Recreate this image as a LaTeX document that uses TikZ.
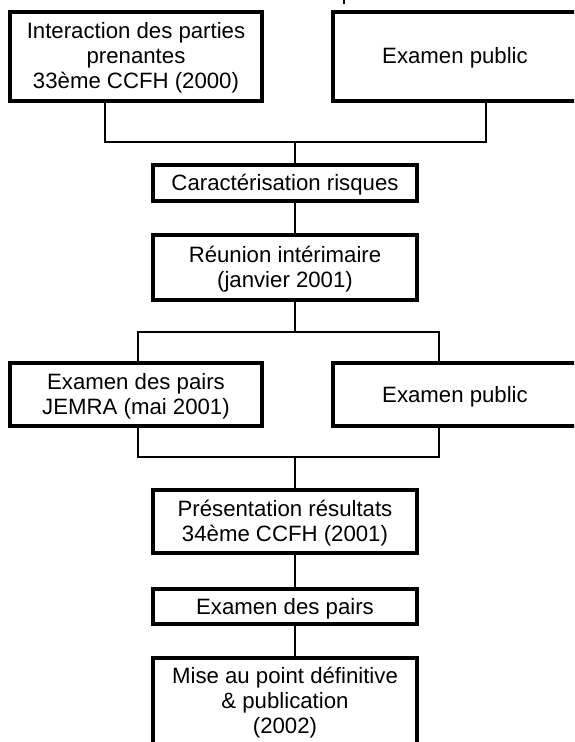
\documentclass[tikz,border=0pt]{standalone}
\usepackage{fontspec}
\setmainfont{Liberation Sans}
\newcommand\lnst{\rule[-4.7pt]{0pt}{24.9pt}}
\begin{document}
\begin{tikzpicture}[x=1pt,y=-1pt,
  box/.style={draw,line width=4pt,inner sep=0pt,align=center,font=\fontsize{22.2}{25}\selectfont},
  wide/.style={minimum width=252pt},
  mid/.style={minimum width=264pt},
  link/.style={line width=2pt}]
\useasboundingbox (0,0) rectangle (574,742);
\clip (0,0) rectangle (574,742);
% nodes
\node[box,wide,minimum height=89pt] (inter) at (136,56) {\lnst Interaction des parties\\\lnst prenantes\\\lnst 33ème CCFH (2000)};
\node[box,minimum width=244pt,minimum height=89pt] (pub1) at (455,56) {\lnst Examen public};
\node[box,mid,minimum height=36pt] (caract) at (285,183) {\lnst Caractérisation risques};
\node[box,mid,minimum height=65pt] (reunion) at (285,267.5) {\lnst Réunion intérimaire\\\lnst (janvier 2001)};
\node[box,wide,minimum height=63pt] (jemra) at (136,394.5) {\lnst Examen des pairs\\\lnst JEMRA (mai 2001)};
\node[box,minimum width=244pt,minimum height=63pt] (pub2) at (455,394.5) {\lnst Examen public};
\node[box,mid,minimum height=63pt] (pres) at (285,521.5) {\lnst Présentation résultats\\\lnst 34ème CCFH (2001)};
\node[box,mid,minimum height=35pt] (pairs) at (285,606.5) {\lnst Examen des pairs};
\node[box,mid,minimum height=86pt] (mise) at (285,701) {\lnst Mise au point définitive\\\lnst \& publication\\\lnst (2002)};
% junction points
\coordinate (t0) at (344,0);
\coordinate (j1l) at (105,142);
\coordinate (j1r) at (486,142);
\coordinate (j1) at (295,142);
\coordinate (j2l) at (138,332);
\coordinate (j2r) at (439,332);
\coordinate (j2) at (295,332);
\coordinate (j3l) at (138,457);
\coordinate (j3r) at (439,457);
\coordinate (j3) at (295,457);
% connectors
\draw[line width=1.5pt] (t0) -- ++(0,4);
\draw[link] (inter.south -| j1l) -- (j1l) -- (j1r) -- (pub1.south -| j1r);
\draw[link] (j1) -- (caract.north -| j1);
\draw[link] (caract.south -| j1) -- (reunion.north -| j1);
\draw[link] (reunion.south -| j2) -- (j2);
\draw[link] (jemra.north -| j2l) -- (j2l) -- (j2r) -- (pub2.north -| j2r);
\draw[link] (jemra.south -| j3l) -- (j3l) -- (j3r) -- (pub2.south -| j3r);
\draw[link] (j3) -- (pres.north -| j3);
\draw[link] (pres.south -| j3) -- (pairs.north -| j3);
\draw[link] (pairs.south -| j3) -- (mise.north -| j3);
\end{tikzpicture}
\end{document}
